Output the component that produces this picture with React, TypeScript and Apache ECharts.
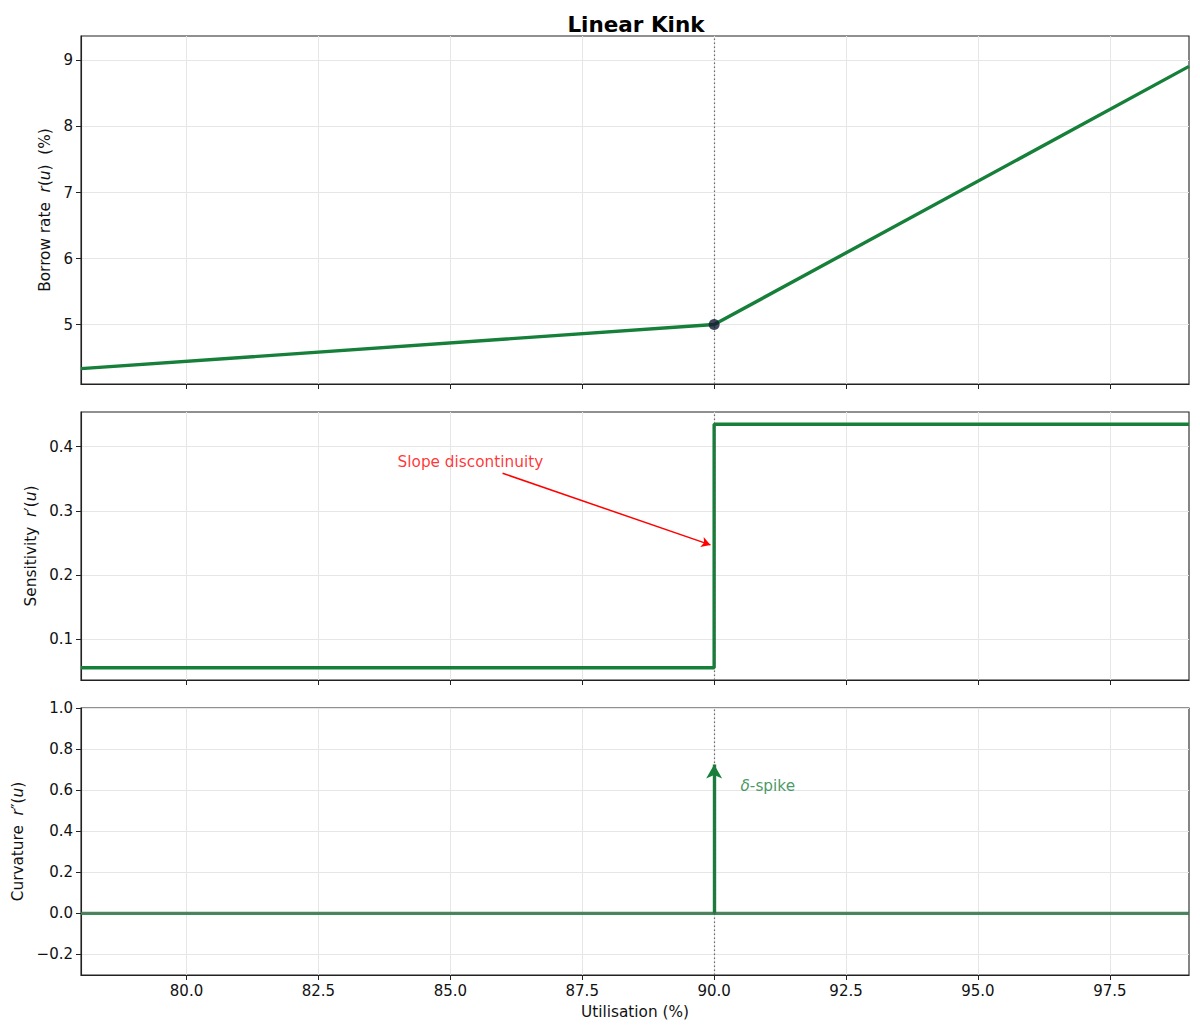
import React, { useEffect, useRef } from 'react';
import * as echarts from 'echarts';

// ---- data ----
const xMin = 78;
const xMax = 99;
const xTicks = [80, 82.5, 85, 87.5, 90, 92.5, 95, 97.5];
const kinkU = 90;

const rateU = [78, 90, 99];
const rateR = [4.333, 5.0, 8.91];
const kinkPoint = [90, 5.0];
const rateTicks = [5, 6, 7, 8, 9];
const rateRange = [4.1, 9.37];

const sensU = [78, 90, 90, 99];
const sensV = [0.0556, 0.0556, 0.435, 0.435];
const sensTicks = [0.1, 0.2, 0.3, 0.4];
const sensRange = [0.0366, 0.454];

const curvU = [78, 99];
const curvV = [0, 0];
const curvTicks = [-0.2, 0, 0.2, 0.4, 0.6, 0.8, 1.0];
const curvRange = [-0.3, 1.0];
const spikeFrom = [90, 0];
const spikeTo = [90, 0.725];

const slopeTextPos = [84.0, 0.376];
const slopeArrowFrom = [85.99, 0.3586];
const slopeArrowTo = [89.93, 0.247];
const spikeLabelPos = [90.5, 0.622];

const GREEN = '#16803a';
const FONT = 'DejaVu Sans';
const TICK_FS = 15;
const LABEL_FS = 15.3;

const zip = (a: number[], b: number[]) => a.map((v, i) => [v, b[i]]);

export default function App() {
  const ref = useRef<HTMLDivElement>(null);
  useEffect(() => {
    if (!ref.current) return;
    const chart = echarts.init(ref.current, null, { renderer: 'svg' });

    const grids = [
      { left: 81, top: 36, width: 1108, height: 348 },
      { left: 81, top: 412, width: 1108, height: 268 },
      { left: 81, top: 708, width: 1108, height: 267 },
    ].map((g) => ({ ...g, show: true, borderColor: '#222', borderWidth: 1.1, backgroundColor: 'transparent' }));

    const xAxis = [0, 1, 2].map((i) => ({
      type: 'value',
      gridIndex: i,
      min: xMin,
      max: xMax,
      axisLine: { show: true, onZero: false, lineStyle: { color: '#222', width: 1.1 } },
      axisTick: { show: true, length: 5, customValues: xTicks, lineStyle: { color: '#222', width: 1 } },
      axisLabel: {
        show: i === 2,
        customValues: xTicks,
        formatter: (v: number) => v.toFixed(1),
        fontFamily: FONT,
        fontSize: TICK_FS,
        color: '#111',
        margin: 8,
      },
      splitLine: { show: true, lineStyle: { color: '#e6e6e6', width: 1 } },
      name: i === 2 ? 'Utilisation (%)' : '',
      nameLocation: 'middle',
      nameGap: 29,
      nameTextStyle: { fontFamily: FONT, fontSize: LABEL_FS, color: '#111' },
    }));

    const richName = {
      i: { fontStyle: 'italic', fontFamily: FONT, fontSize: LABEL_FS, color: '#111' },
    };
    const fmtY = (d: number) => (v: number) => {
      const s = d === 0 ? String(Math.round(v)) : v.toFixed(d);
      return s.replace('-', '\u2212');
    };
    const yDefs = [
      { range: rateRange, ticks: rateTicks, dec: 0, name: 'Borrow rate  {i|r}({i|u})  (%)', gap: 27 },
      { range: sensRange, ticks: sensTicks, dec: 1, name: 'Sensitivity  {i|r}\u2032({i|u})', gap: 43 },
      { range: curvRange, ticks: curvTicks, dec: 1, name: 'Curvature  {i|r}\u2033({i|u})', gap: 55 },
    ];
    const yAxis = yDefs.map((d, i) => ({
      type: 'value',
      gridIndex: i,
      min: d.range[0],
      max: d.range[1],
      axisLine: { show: true, onZero: false, lineStyle: { color: '#222', width: 1.1 } },
      axisTick: { show: true, length: 5, customValues: d.ticks, lineStyle: { color: '#222', width: 1 } },
      axisLabel: {
        customValues: d.ticks,
        formatter: fmtY(d.dec),
        fontFamily: FONT,
        fontSize: TICK_FS,
        color: '#111',
        margin: 8,
      },
      splitLine: { show: true, lineStyle: { color: '#e6e6e6', width: 1 } },
      name: d.name,
      nameLocation: 'middle',
      nameRotate: 90,
      nameGap: d.gap,
      nameTextStyle: { fontFamily: FONT, fontSize: LABEL_FS, color: '#111', rich: richName },
    }));

    const vline = (i: number) => ({
      type: 'line',
      xAxisIndex: i,
      yAxisIndex: i,
      data: [],
      z: 6,
      silent: true,
      markLine: {
        silent: true,
        symbol: ['none', 'none'],
        label: { show: false },
        emphasis: { disabled: true },
        lineStyle: { color: '#555', opacity: 0.85, width: 1.2, type: [1.5, 2.5] },
        data: [{ xAxis: kinkU }],
      },
    });

    const series: any[] = [
      {
        type: 'line',
        xAxisIndex: 0,
        yAxisIndex: 0,
        data: zip(rateU, rateR),
        showSymbol: false,
        symbol: 'none',
        lineStyle: { color: GREEN, width: 3.4 },
        z: 3,
      },
      vline(0),
      {
        type: 'scatter',
        xAxisIndex: 0,
        yAxisIndex: 0,
        data: [kinkPoint],
        symbolSize: 11,
        itemStyle: { color: '#141a33' },
        z: 10,
      },
      {
        type: 'line',
        xAxisIndex: 1,
        yAxisIndex: 1,
        data: zip(sensU, sensV),
        showSymbol: false,
        symbol: 'none',
        lineStyle: { color: GREEN, width: 3.4 },
        z: 3,
        markLine: {
          silent: true,
          symbol: ['none', 'arrow'],
          symbolSize: [8, 9],
          label: { show: false },
          emphasis: { disabled: true },
          lineStyle: { color: '#ff0000', width: 1.5, type: 'solid' },
          data: [[{ coord: slopeArrowFrom }, { coord: slopeArrowTo }]],
        },
      },
      vline(1),
      {
        type: 'scatter',
        xAxisIndex: 1,
        yAxisIndex: 1,
        data: [slopeTextPos],
        symbolSize: 0,
        silent: true,
        label: {
          show: true,
          position: 'inside',
          align: 'left',
          verticalAlign: 'middle',
          formatter: 'Slope discontinuity',
          fontFamily: FONT,
          fontSize: LABEL_FS,
          color: '#ff0000',
        },
        z: 8,
      },
      {
        type: 'line',
        xAxisIndex: 2,
        yAxisIndex: 2,
        data: zip(curvU, curvV),
        showSymbol: false,
        symbol: 'none',
        lineStyle: { color: GREEN, width: 3.4, opacity: 0.85 },
        z: 3,
        markLine: {
          silent: true,
          symbol: ['none', 'arrow'],
          symbolSize: [12, 14],
          label: { show: false },
          emphasis: { disabled: true },
          lineStyle: { color: GREEN, width: 3.4, type: 'solid', opacity: 1 },
          itemStyle: { color: GREEN },
          data: [[{ coord: spikeFrom }, { coord: spikeTo }]],
        },
      },
      {
        type: 'line',
        xAxisIndex: 2,
        yAxisIndex: 2,
        data: zip(curvU, curvV),
        showSymbol: false,
        symbol: 'none',
        lineStyle: { color: '#6b6b6b', width: 1 },
        z: 4,
        silent: true,
      },
      vline(2),
      {
        type: 'scatter',
        xAxisIndex: 2,
        yAxisIndex: 2,
        data: [spikeLabelPos],
        symbolSize: 0,
        silent: true,
        label: {
          show: true,
          position: 'inside',
          align: 'left',
          verticalAlign: 'middle',
          formatter: '{i|\u03b4}-spike',
          fontFamily: FONT,
          fontSize: LABEL_FS,
          color: GREEN,
          rich: {
            i: { fontStyle: 'italic', fontFamily: FONT, fontSize: LABEL_FS, color: GREEN },
          },
        },
        z: 8,
      },
    ];

    chart.setOption({
      animation: false,
      backgroundColor: '#ffffff',
      title: {
        text: 'Linear Kink',
        left: 631,
        top: 8,
        textAlign: 'center',
        textStyle: { fontFamily: FONT, fontSize: 21.5, fontWeight: 'bold', color: '#000' },
      },
      grid: grids,
      xAxis,
      yAxis,
      series,
    });
    return () => chart.dispose();
  }, []);
  return (
    <div
      ref={ref}
      style={{ position: 'absolute', left: 0, top: 0, width: 1200, height: 1033, background: '#fff' }}
    />
  );
}
